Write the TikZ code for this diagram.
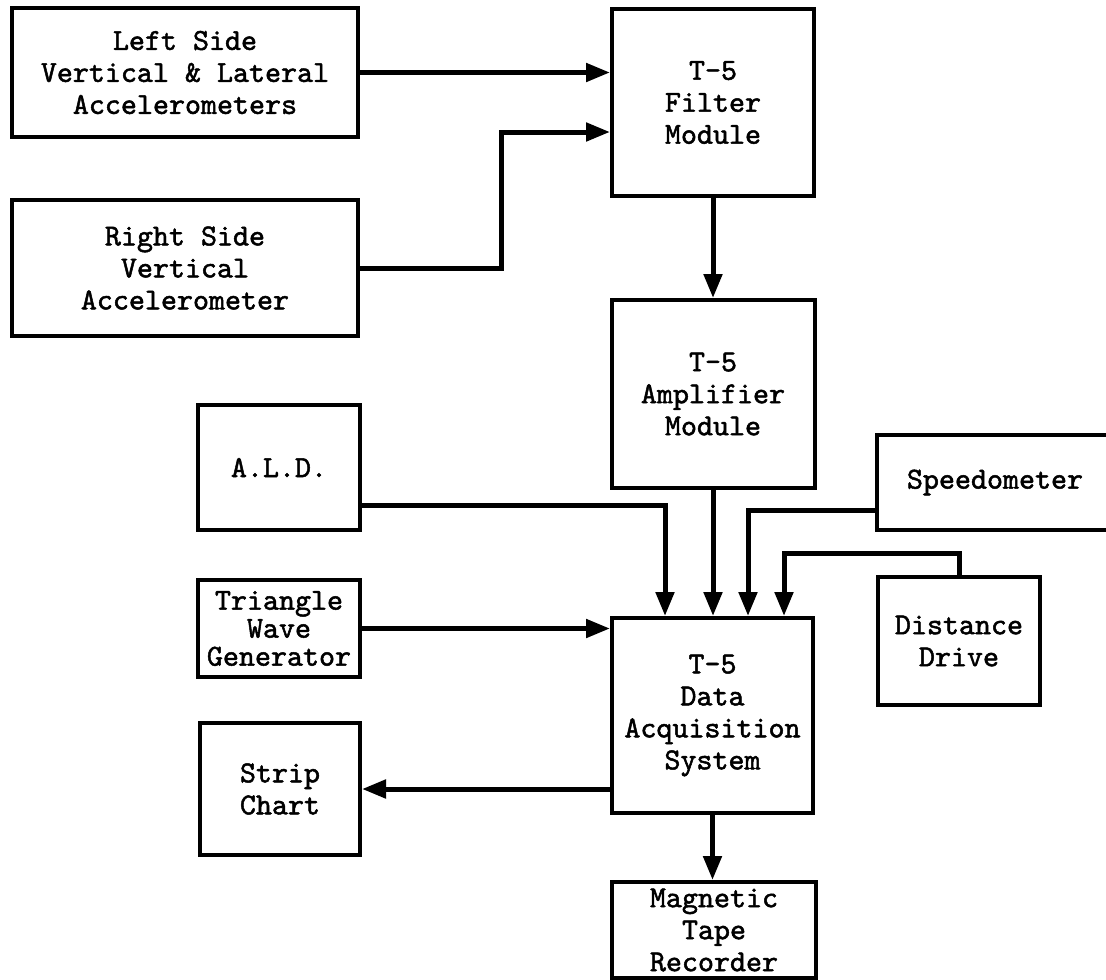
\documentclass[tikz,border=0pt]{standalone}
\usepackage{fontspec}
\usetikzlibrary{arrows.meta}
\newfontfamily\twf{lmmono10-regular.otf}[FakeBold=1.6]
\newcommand\twfont{\twf\fontsize{30.5}{32}\selectfont}
\newcommand\twfonttight{\twf\fontsize{30.5}{28}\selectfont}
\tikzset{
  blk/.style={draw, line width=4pt, inner sep=0pt, align=center, font=\twfont},
  arr/.style={line width=5pt, -{Triangle[length=24pt,width=18pt]}},
}
\begin{document}
\begin{tikzpicture}[x=1pt,y=-1pt]
\fill[white] (0,0) rectangle (1106,980);
\useasboundingbox (0,0) rectangle (1106,980);
\clip (0,0) rectangle (1106,980);
% boxes
\node[blk, minimum width=346pt, minimum height=129pt] (left) at (185,72.5) {Left Side\\Vertical \& Lateral\\Accelerometers};
\node[blk, minimum width=346pt, minimum height=136pt] (right) at (185,268) {Right Side\\Vertical\\Accelerometer};
\node[blk, minimum width=202pt, minimum height=187pt] (filter) at (713,102.5) {T-5\\Filter\\Module};
\node[blk, minimum width=203pt, minimum height=188pt] (amp) at (713,394) {T-5\\Amplifier\\Module};
\node[blk, minimum width=162pt, minimum height=125pt] (ald) at (279,467.5) {A.L.D.};
\node[blk, minimum width=236pt, minimum height=95pt] (speed) at (995,482.5) {Speedometer};
\node[blk, minimum width=162pt, minimum height=97pt, font=\twfonttight] (tri) at (279,628.5) {Triangle\\Wave\\Generator};
\node[blk, minimum width=201pt, minimum height=195pt] (daq) at (712.5,715.5) {T-5\\Data\\Acquisition\\System};
\node[blk, minimum width=162pt, minimum height=128pt] (dist) at (959,641) {Distance\\Drive};
\node[blk, minimum width=160pt, minimum height=132pt] (strip) at (280,789) {Strip\\Chart};
\node[blk, minimum width=204pt, minimum height=96pt] (mag) at (714,930) {Magnetic\\Tape\\Recorder};
% junction coordinates
\coordinate (j1) at (501,132);
\coordinate (a1) at (665,505);
\coordinate (s1) at (748,510);
\coordinate (d1) at (784,553);
% connectors
\draw[arr] (left.east) -- (left.east -| filter.west);
\draw[arr] (right.east) -| (j1) -- (j1 -| filter.west);
\draw[arr] (filter.south) -- (amp.north);
\draw[arr] (a1 -| ald.east) -- (a1) -- (a1 |- daq.north);
\draw[arr] (amp.south) -- (amp.south |- daq.north);
\draw[arr] (s1 -| speed.west) -- (s1) -- (s1 |- daq.north);
\draw[arr] (dist.north) |- (d1) -- (d1 |- daq.north);
\draw[arr] (tri.east) -- (tri.east -| daq.west);
\draw[arr] (daq.west |- strip.east) -- (strip.east);
\draw[arr] (daq.south) -- (daq.south |- mag.north);
\end{tikzpicture}
\end{document}
